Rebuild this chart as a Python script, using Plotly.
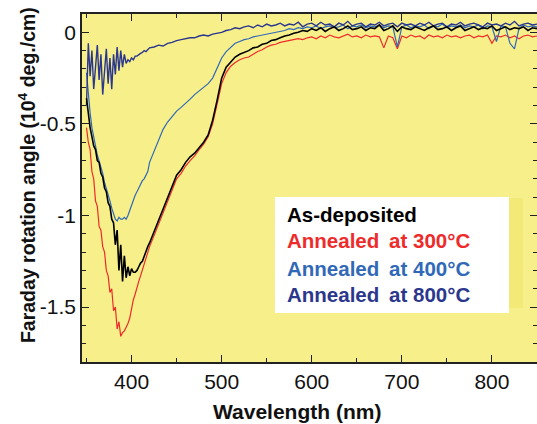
import plotly.graph_objects as go

# Wavelength grid (nm): 2 nm steps on the steep part, 5 nm steps afterwards
wl_a = list(range(350, 420, 2))
wl_b = list(range(420, 855, 5))
wavelength = wl_a + wl_b

# As-deposited (black)
asdep_a = [-0.36, -0.46, -0.52, -0.57, -0.62, -0.64, -0.70, -0.71, -0.77, -0.79,
           -0.85, -0.87, -0.93, -0.95, -1.02, -1.04, -1.16, -1.08, -1.30, -1.16,
           -1.36, -1.22, -1.34, -1.28, -1.33, -1.29, -1.31, -1.31, -1.30, -1.28,
           -1.26, -1.25, -1.22, -1.20, -1.17]
asdep_b = [-1.15, -1.09, -1.03, -0.97, -0.90, -0.84, -0.78, -0.75, -0.71, -0.68,
           -0.66, -0.63, -0.60, -0.56, -0.48, -0.37, -0.25, -0.19, -0.16, -0.135,
           -0.12, -0.11, -0.10, -0.085, -0.08, -0.065, -0.06, -0.045, -0.04, -0.03,
           -0.02, -0.015, -0.005, 0.0, 0.01, 0.005, 0.02, 0.01, 0.025, 0.005,
           0.02, 0.03, 0.01, 0.02, 0.035, 0.015, 0.02, 0.03, 0.01, 0.025,
           0.02, 0.04, 0.01, 0.02, 0.035, 0.005, 0.03, 0.02, 0.015, 0.03,
           0.02, 0.01, 0.025, 0.035, 0.015, 0.02, 0.03, 0.01, 0.025, 0.035,
           0.01, 0.02, 0.03, 0.015, 0.025, 0.02, 0.035, 0.01, 0.02, 0.03,
           0.015, 0.025, 0.02, 0.03, 0.01, 0.025, 0.02]

# Annealed at 300 C (red)
a300_a = [-0.52, -0.60, -0.64, -0.76, -0.80, -0.92, -0.95, -1.06, -1.08, -1.17,
          -1.20, -1.30, -1.33, -1.42, -1.40, -1.52, -1.50, -1.62, -1.58, -1.66,
          -1.64, -1.63, -1.61, -1.59, -1.56, -1.50, -1.46, -1.43, -1.39, -1.36,
          -1.33, -1.30, -1.27, -1.24, -1.21]
a300_b = [-1.17, -1.11, -1.05, -0.99, -0.92, -0.86, -0.80, -0.77, -0.73, -0.70,
          -0.675, -0.64, -0.61, -0.57, -0.50, -0.39, -0.28, -0.22, -0.185, -0.165,
          -0.15, -0.14, -0.135, -0.12, -0.105, -0.095, -0.08, -0.07, -0.065, -0.055,
          -0.05, -0.045, -0.04, -0.035, -0.04, -0.03, -0.025, -0.035, -0.02, -0.03,
          -0.015, -0.025, -0.03, -0.02, -0.01, -0.025, -0.02, -0.03, -0.015, -0.025,
          -0.02, -0.025, -0.085, -0.02, -0.03, -0.09, -0.02, -0.03, -0.015, -0.025,
          -0.02, -0.035, -0.015, -0.025, -0.02, -0.03, -0.015, -0.025, -0.02, -0.03,
          -0.02, -0.015, -0.03, -0.02, -0.025, -0.015, -0.06, -0.02, -0.025, -0.015,
          -0.03, -0.02, -0.035, -0.02, -0.015, -0.025, -0.02]

# Annealed at 400 C (blue)
a400_a = [-0.22, -0.34, -0.44, -0.52, -0.58, -0.62, -0.67, -0.70, -0.74, -0.77,
          -0.82, -0.85, -0.89, -0.92, -0.96, -0.99, -1.02, -1.03, -1.01, -1.02,
          -1.02, -1.01, -1.02, -1.00, -0.97, -0.95, -0.92, -0.89, -0.87, -0.85,
          -0.83, -0.81, -0.80, -0.78, -0.76]
a400_b = [-0.71, -0.65, -0.58, -0.53, -0.49, -0.46, -0.43, -0.41, -0.39, -0.365,
          -0.34, -0.32, -0.30, -0.28, -0.25, -0.19, -0.14, -0.105, -0.08, -0.06,
          -0.05, -0.04, -0.035, -0.025, -0.02, -0.015, -0.01, -0.005, 0.0, 0.005,
          0.01, 0.02, 0.015, 0.025, 0.02, 0.03, 0.025, 0.035, 0.02, 0.03,
          0.035, 0.025, 0.03, 0.04, 0.02, 0.035, 0.03, 0.04, 0.025, 0.035,
          0.03, 0.04, 0.025, 0.035, 0.03, -0.08, 0.03, 0.04, 0.025, 0.035,
          0.03, 0.04, 0.02, 0.035, 0.03, 0.045, 0.025, 0.035, 0.03, 0.04,
          0.025, 0.035, 0.03, 0.04, 0.02, 0.035, 0.03, -0.05, 0.035, 0.03,
          -0.06, -0.09, 0.02, 0.04, 0.03, 0.035, 0.03]

# Annealed at 800 C (navy)
a800_a = [-0.40, -0.06, -0.24, -0.10, -0.31, -0.16, -0.07, -0.26, -0.12, -0.34,
          -0.19, -0.09, -0.28, -0.14, -0.31, -0.12, -0.23, -0.08, -0.21, -0.10,
          -0.19, -0.12, -0.17, -0.15, -0.16, -0.14, -0.15, -0.13, -0.13, -0.12,
          -0.115, -0.11, -0.10, -0.105, -0.095]
a800_b = [-0.085, -0.08, -0.07, -0.075, -0.06, -0.055, -0.045, -0.04, -0.035, -0.03,
          -0.03, -0.02, -0.015, -0.02, -0.01, -0.005, 0.0, 0.01, 0.015, 0.025,
          0.02, 0.03, 0.035, 0.025, 0.04, 0.03, 0.045, 0.035, 0.04, 0.05,
          0.035, 0.045, 0.04, 0.055, 0.03, 0.045, 0.05, 0.035, 0.055, 0.04,
          0.045, 0.03, 0.05, 0.04, 0.06, 0.035, 0.045, 0.05, 0.03, 0.045,
          0.04, 0.055, 0.035, 0.045, 0.05, 0.03, 0.05, 0.04, 0.045, 0.035,
          0.05, 0.04, 0.055, 0.035, 0.045, 0.05, 0.03, 0.045, 0.04, 0.055,
          0.035, 0.045, 0.05, 0.04, 0.03, 0.05, 0.04, 0.045, 0.035, 0.05,
          0.04, 0.06, 0.035, 0.045, 0.05, 0.04, 0.045]

series_names = ["As-deposited", "Annealed\u2009 at 300°C", "Annealed\u2009 at 400°C",
                "Annealed\u2009 at 800°C"]
series_vals = [asdep_a + asdep_b, a300_a + a300_b, a400_a + a400_b, a800_a + a800_b]
series_colors = ["#000000", "#EE2B2B", "#3169B8", "#2B378C"]
series_widths = [1.6, 1.2, 1.2, 1.4]

y_tickvals = [0, -0.5, -1, -1.5]
y_ticktext = ["0", "-0.5", "-1", "-1.5"]
x_tickvals = [400, 500, 600, 700, 800]
x_ticktext = ["400", "500", "600", "700", "800"]

fig = go.Figure()
draw_order = [1, 2, 3, 0]
for i in draw_order:
    fig.add_trace(go.Scatter(x=wavelength, y=series_vals[i], mode="lines",
                             name=series_names[i],
                             line=dict(color=series_colors[i], width=series_widths[i]),
                             showlegend=False))

FONT = "Liberation Sans, Arial, sans-serif"
axis_common = dict(showline=True, linecolor="#222222", linewidth=1.5, mirror="ticks",
                   ticks="inside", ticklen=7, tickwidth=1.3, tickcolor="#222222",
                   showgrid=False, zeroline=False, automargin=False,
                   tickfont=dict(family=FONT, size=21, color="#111111"))

fig.update_xaxes(range=[345, 850], tickvals=x_tickvals, ticktext=x_ticktext,
                 minor=dict(dtick=50, tick0=0, ticks="inside", ticklen=4,
                            tickcolor="#222222", tickwidth=1.2),
                 **axis_common)
fig.update_yaxes(range=[-1.8, 0.1], tickvals=y_tickvals, ticktext=y_ticktext,
                 minor=dict(dtick=0.1, tick0=0, ticks="inside", ticklen=4,
                            tickcolor="#222222", tickwidth=1.2),
                 **axis_common)

# legend box (white) and the slightly darker strip next to it
fig.add_shape(type="rect", xref="paper", yref="paper", x0=0.9385, x1=0.969,
              y0=0.155, y1=0.471, fillcolor="#F3E977", line_width=0, layer="below")
fig.add_shape(type="rect", xref="paper", yref="paper", x0=0.424, x1=0.9385,
              y0=0.1408, y1=0.474, fillcolor="#FFFFFF", line_width=0, layer="above")

legend_y = [0.425, 0.348, 0.270, 0.195]
for name, col, yy in zip(series_names, series_colors, legend_y):
    fig.add_annotation(xref="paper", yref="paper", x=0.446, y=yy, xanchor="left",
                       yanchor="middle", showarrow=False, text="<b>%s</b>" % name,
                       font=dict(family=FONT, size=20.5, color=col))

fig.add_annotation(xref="paper", yref="paper", x=0.4736, y=-0.141, xanchor="center",
                   yanchor="middle", showarrow=False, text="<b>Wavelength (nm)</b>",
                   font=dict(family=FONT, size=21, color="#111111"))
fig.add_annotation(xref="paper", yref="paper", x=-0.1209, y=0.537, xanchor="center",
                   yanchor="middle", showarrow=False, textangle=-90,
                   text="<b>Faraday rotation angle (10<sup>4</sup> deg./cm)</b>",
                   font=dict(family=FONT, size=19.5, color="#111111"))

fig.update_layout(width=537, height=424, margin=dict(l=82, r=0, t=14, b=62),
                  paper_bgcolor="#FFFFFF", plot_bgcolor="#F6EF8A",
                  showlegend=False)

fig.write_html("out.html", config={"displayModeBar": False},
               post_script="document.body.style.margin='0';document.body.style.overflow='hidden';")
